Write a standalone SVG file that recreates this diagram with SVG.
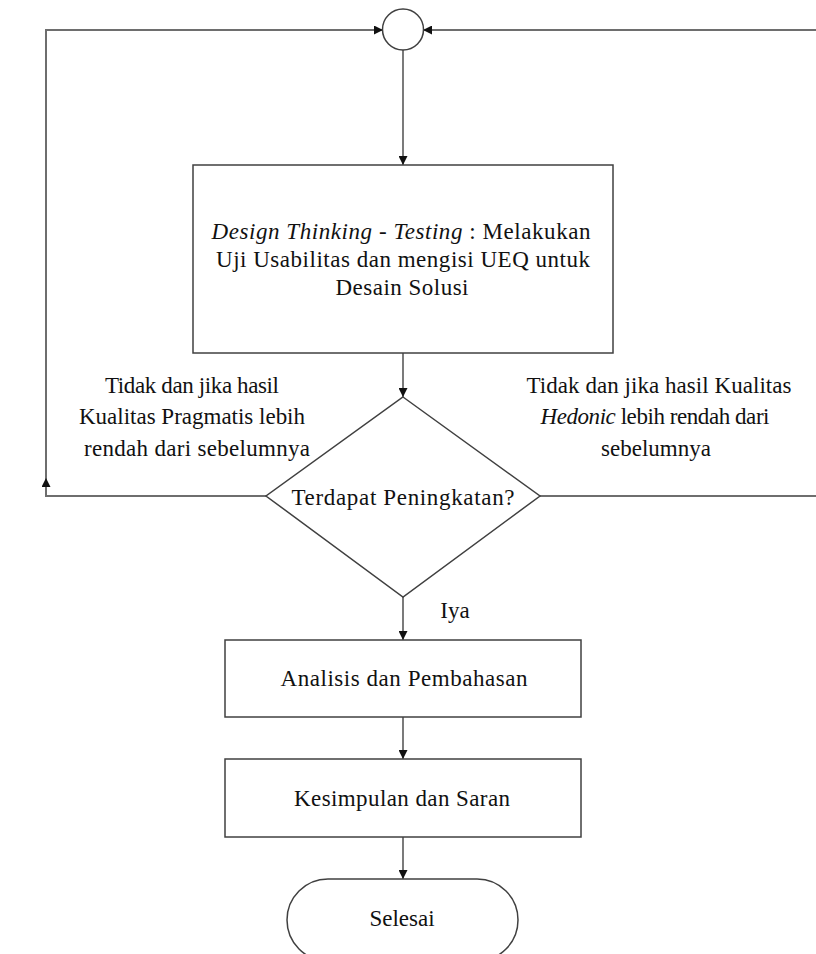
<svg xmlns="http://www.w3.org/2000/svg" width="816" height="954" viewBox="0 0 816 954">
<defs>
<style>
.shape{fill:#fff;stroke:#404040;stroke-width:1.5}
.conn{fill:none;stroke:#333;stroke-width:1.3}
.loop{fill:none;stroke:#6e6e6e;stroke-width:2}
text{font-family:"Liberation Serif","Times New Roman",serif;font-size:23px;fill:#111;text-anchor:middle;dominant-baseline:central}
.it{font-style:italic}
</style>
<marker id="ah" viewBox="0 0 10 10" refX="10" refY="5" markerWidth="9" markerHeight="9" markerUnits="userSpaceOnUse" orient="auto">
<path d="M0,0 L10,5 L0,10 Z" fill="#111"/>
</marker>
</defs>
<rect width="816" height="954" fill="#fff"/>
<g id="connectors">
<path class="conn" d="M403,50 V165" marker-end="url(#ah)"/>
<path class="conn" d="M403,353 V397" marker-end="url(#ah)"/>
<path class="loop" d="M266,496 H46 V478" marker-end="url(#ah)"/>
<path class="loop" d="M46,478 V30 H383" marker-end="url(#ah)"/>
<path class="loop" d="M540,496 H822 V30 H423" marker-end="url(#ah)"/>
<path class="conn" d="M403,597 V640" marker-end="url(#ah)"/>
<path class="conn" d="M403,717 V759" marker-end="url(#ah)"/>
<path class="conn" d="M403,837 V879" marker-end="url(#ah)"/>
</g>
<g id="merge">
<circle class="shape" cx="403" cy="29.5" r="20.5"/>
</g>
<g id="testing">
<rect class="shape" x="193" y="165" width="420" height="188"/>
<text x="401" y="231" textLength="379"><tspan class="it">Design Thinking - Testing</tspan> : Melakukan</text>
<text x="403" y="259" textLength="374">Uji Usabilitas dan mengisi UEQ untuk</text>
<text x="402" y="287" textLength="133">Desain Solusi</text>
</g>
<g id="decision">
<path class="shape" d="M403,397 L540,496 L403,597 L266,496 Z"/>
<text x="403" y="497" textLength="223">Terdapat Peningkatan?</text>
</g>
<g id="label-left">
<text x="192" y="385" textLength="174">Tidak dan jika hasil</text>
<text x="192" y="416" textLength="226">Kualitas Pragmatis lebih</text>
<text x="197" y="448" textLength="226">rendah dari sebelumnya</text>
</g>
<g id="label-right">
<text x="659" y="385" textLength="265">Tidak dan jika hasil Kualitas</text>
<text x="655" y="416" textLength="229"><tspan class="it">Hedonic</tspan> lebih rendah dari</text>
<text x="656" y="448">sebelumnya</text>
</g>
<g id="label-iya">
<text x="455" y="610">Iya</text>
</g>
<g id="analisis">
<rect class="shape" x="225" y="640" width="356" height="77"/>
<text x="404" y="678" textLength="247">Analisis dan Pembahasan</text>
</g>
<g id="kesimpulan">
<rect class="shape" x="225" y="759" width="356" height="78"/>
<text x="402" y="798" textLength="216">Kesimpulan dan Saran</text>
</g>
<g id="selesai">
<rect class="shape" x="287" y="879" width="231" height="82" rx="41" ry="41"/>
<text x="402" y="918">Selesai</text>
</g>
</svg>
